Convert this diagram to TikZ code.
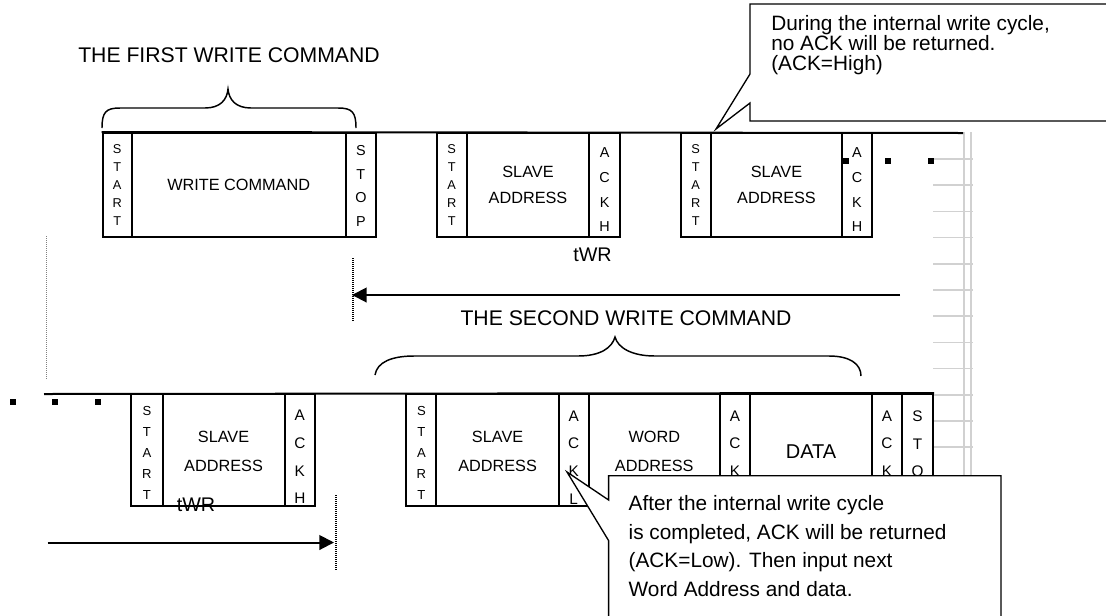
\documentclass[tikz,border=0pt]{standalone}
\usepackage{fontspec}
\setmainfont{Liberation Sans}
\usetikzlibrary{arrows.meta}
% #1 text options, #2 name, #3 x1, #4 x2, #5 y1, #6 y2, #7 text offset (px), #8 text
\newcommand\cellbox[8][]{%
  \node[cellsty,minimum width={(#4-#3)*0.75pt},minimum height={(#6-#5)*0.75pt}]
    (#2) at ({(#3+#4)/2},{(#5+#6)/2}) {};
  \node[celltext,#1] (#2-t) at ({(#3+#4)/2},{(#5+#6)/2+#7}) {#8};}
\begin{document}
\begin{tikzpicture}[x=0.75pt,y=-0.75pt,
  cellsty/.style={draw, line width=1.5pt, inner sep=0pt},
  celltext/.style={inner sep=0pt, align=center, font=\fontsize{12.2}{19.5}\selectfont},
  tstart/.style={font=\fontsize{9.6}{13.6}\selectfont},
  tstop/.style={font=\fontsize{10.8}{17.8}\selectfont},
  tack/.style={font=\fontsize{10.8}{18.5}\selectfont},
  bstart/.style={font=\fontsize{9.8}{15.9}\selectfont},
  back/.style={font=\fontsize{11.5}{20.7}\selectfont},
  bsa/.style={font=\fontsize{12.2}{21.75}\selectfont},
  bdata/.style={font=\fontsize{15}{18}\selectfont},
  busline/.style={line width=1.5pt},
  headsty/.style={font=\fontsize{15.9}{19}\selectfont, inner sep=0pt},
  twrsty/.style={font=\fontsize{14.8}{18}\selectfont, inner sep=0pt},
  bracesty/.style={line width=1.1pt},
  arr/.style={line width=1.5pt, -{Triangle[length=11pt,width=11pt]}},
  blackdots/.style={line width=1.1pt, dash pattern=on 0.75pt off 0.75pt},
  greydots/.style={line width=0.75pt, gray, dash pattern=on 0.75pt off 0.75pt},
  gridsty/.style={line width=1.1pt, black!18},
  sq/.style={fill=black},
  callsty/.style={draw, fill=white, line width=1pt},
  calltext/.style={font=\fontsize{15.6}{15}\selectfont, align=left, inner sep=0pt, anchor=north west},
  calltextb/.style={font=\fontsize{15.6}{21.5}\selectfont, align=left, inner sep=0pt, anchor=north west}
]
\useasboundingbox (0,0) rectangle (1106,615);
\clip (0,0) rectangle (1106,615);

% ---------- headings and braces ----------
\node[headsty] (head1) at (229,55) {THE FIRST WRITE COMMAND};
\draw[bracesty] (102,128) .. controls (102,112) and (106,108) .. (120,108) -- (205,108)
  .. controls (220,108) and (227,100) .. (228,89)
  .. controls (229,100) and (236,108) .. (251,108) -- (338,108)
  .. controls (352,108) and (356,112) .. (356,128);

\node[headsty] (head2) at (626,318) {THE SECOND WRITE COMMAND};
\draw[bracesty] (375,375) .. controls (377,362) and (392,356) .. (414,356) -- (578,356)
  .. controls (600,356) and (612,348) .. (615,337)
  .. controls (618,348) and (632,356) .. (655,356) -- (829,356)
  .. controls (850,356) and (861,364) .. (861,376);

% ---------- grey grid on the right ----------
\foreach \k in {0,...,11}
  \draw[gridsty] (933,{159+26.2*\k}) -- (973,{159+26.2*\k});
\draw[gridsty] (964,132) -- (964,480);
\draw[gridsty] (971,132) -- (971,480);

% ---------- top row ----------
\cellbox[tstart]{t1s}{102.7}{131.7}{133}{237}{0}{S\\T\\A\\R\\T}
\cellbox{t1w}{131.7}{345.7}{133}{237}{0}{WRITE COMMAND}
\cellbox[tstop]{t1p}{345.7}{376}{133}{237}{1}{S\\T\\O\\P}
\cellbox[tstart]{t2s}{436.7}{466.7}{133}{237}{0}{S\\T\\A\\R\\T}
\cellbox{t2a}{466.7}{589.3}{133}{237}{0}{SLAVE\\ADDRESS}
\cellbox[tack]{t2k}{589.3}{620}{133}{237}{5}{A\\C\\K\\H}
\cellbox[tstart]{t3s}{680.7}{710.7}{133}{237}{0}{S\\T\\A\\R\\T}
\cellbox{t3a}{710.7}{842.3}{133}{237}{0}{SLAVE\\ADDRESS}
\cellbox[tack]{t3k}{842.3}{871.7}{133}{237}{5}{A\\C\\K\\H}
\coordinate (topend) at (963,133);
\draw[busline] (t1s.north west) -- (topend);
\fill[sq] (843,158) rectangle (849,164);
\fill[sq] (885,158) rectangle (891,164);
\fill[sq] (928,158) rectangle (934,164);
\node[twrsty] (twr1) at (592.5,255) {tWR};

% ---------- middle: arrow and dotted guides ----------
\coordinate (d1a) at (353,258); \coordinate (d1b) at (353,322);
\draw[blackdots] (d1a) -- (d1b);
\coordinate (d2a) at (46.5,236); \coordinate (d2b) at (46.5,380);
\draw[greydots] (d2a) -- (d2b);
\coordinate (a1s) at (900,295); \coordinate (a1e) at (352,295);
\draw[arr] (a1s) -- (a1e);

% ---------- bottom row ----------
\cellbox[bstart]{b1s}{131.4}{162.5}{394}{506}{3}{S\\T\\A\\R\\T}
\cellbox[bsa]{b1a}{162.5}{284.6}{394}{506}{1}{SLAVE\\ADDRESS}
\cellbox[back]{b1k}{284.6}{315}{394}{506}{7}{A\\C\\K\\H}
\cellbox[bstart]{b2s}{406.4}{436.4}{394}{506}{3}{S\\T\\A\\R\\T}
\cellbox[bsa]{b2a}{436.4}{558.8}{394}{506}{1}{SLAVE\\ADDRESS}
\cellbox[back]{b2k}{558.8}{588.7}{394}{506}{7.5}{A\\C\\K\\L}
\cellbox[bsa]{b2w}{588.7}{719.8}{394}{506}{1}{WORD\\ADDRESS}
\cellbox[back]{b2k2}{719.8}{750}{394}{506}{7.5}{A\\C\\K\\\phantom{L}}
\cellbox[bdata]{b2d}{750}{872}{394}{506}{2}{DATA}
\cellbox[back]{b2k3}{872}{902}{394}{506}{7.5}{A\\C\\K\\\phantom{L}}
\cellbox[back]{b2p}{902}{933}{394}{506}{7.5}{S\\T\\O\\\phantom{P}}
\coordinate (botstart) at (44,394);
\draw[busline] (botstart) -- (b2p.north east);
\fill[sq] (9.5,399) rectangle (15.5,405);
\fill[sq] (52,399) rectangle (58,405);
\fill[sq] (95,399) rectangle (101,405);
\node[twrsty] (twr2) at (196,505) {tWR};
\coordinate (a2s) at (47.5,542.5); \coordinate (a2e) at (334,542.5);
\draw[arr] (a2s) -- (a2e);
\coordinate (d3a) at (336,495); \coordinate (d3b) at (336,570);
\draw[blackdots] (d3a) -- (d3b);

% ---------- callouts ----------
\draw[callsty] (750,4) -- (1110,4) -- (1110,121) -- (750,121) -- (750,103)
  -- (716,129) -- (750,74) -- cycle;
\node[calltext] (note1) at (771,15) {During the internal write cycle,\\no ACK will be returned.\\(ACK=High)};

\draw[callsty] (608.6,475.7) -- (1001,475.7) -- (1001,620) -- (608.6,620) -- (608.6,540.6)
  -- (567,472) -- (608.6,500) -- cycle;
\node[calltextb] (note2) at (628.4,495.3) {After the internal write cycle\\is completed, ACK will be returned\\(ACK=Low). Then input next\\Word Address and data.};
\end{tikzpicture}
\end{document}
